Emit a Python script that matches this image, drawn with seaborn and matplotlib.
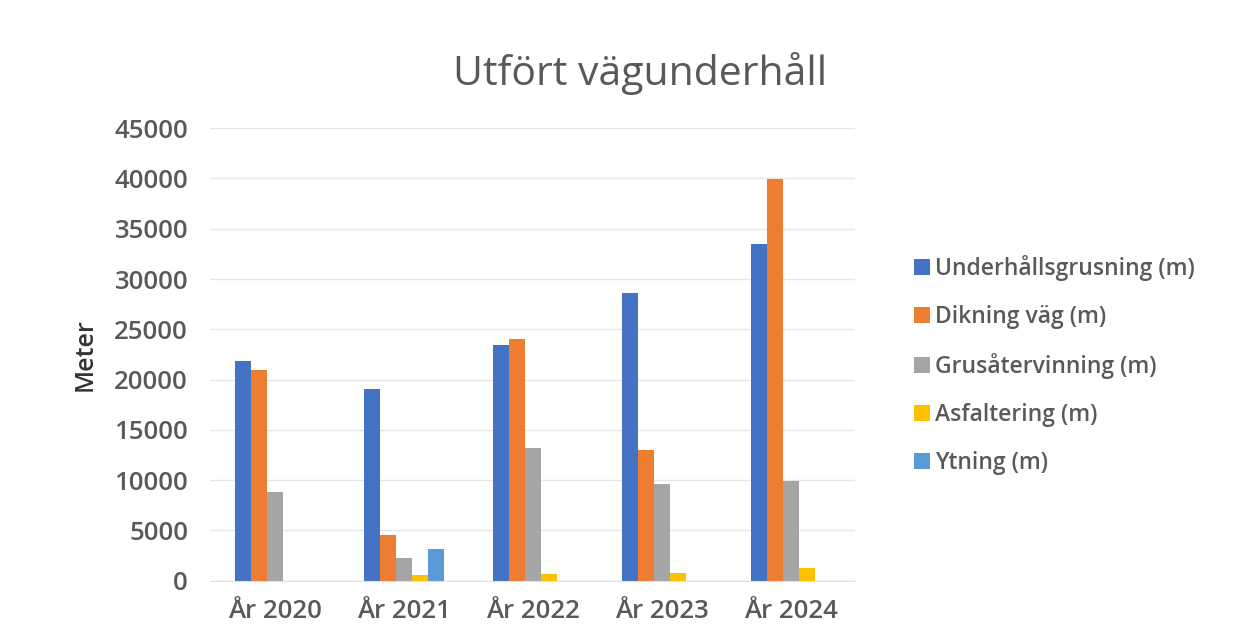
import pandas as pd
import seaborn as sns
import matplotlib.pyplot as plt

# Data
years = ['År 2020', 'År 2021', 'År 2022', 'År 2023', 'År 2024']
series = ['Underhållsgrusning (m)', 'Dikning väg (m)', 'Grusåtervinning (m)',
          'Asfaltering (m)', 'Ytning (m)']
underhall = [21900, 19100, 23400, 28600, 33500]
dikning = [21000, 4500, 24000, 13000, 39900]
grus = [8800, 2300, 13200, 9600, 9900]
asfalt = [0, 600, 700, 800, 1300]
ytning = [0, 3200, 0, 0, 0]

colors = ['#4472C4', '#ED7D31', '#A5A5A5', '#FFC000', '#5B9BD5']
txt = '#595959'

rows = []
for name, vals in zip(series, [underhall, dikning, grus, asfalt, ytning]):
    for yr, v in zip(years, vals):
        rows.append({'year': yr, 'serie': name, 'meter': v})
df = pd.DataFrame(rows)

sns.set_style('white')
plt.rcParams['font.family'] = ['Open Sans', 'DejaVu Sans']

fig = plt.figure(figsize=(12.52, 6.41), dpi=100)
ax = fig.add_axes([0.168, 0.094, 0.515, 0.706])

sns.barplot(data=df, x='year', y='meter', hue='serie', palette=colors,
            width=0.62, saturation=1, linewidth=0, ax=ax, legend=True)

ax.set_ylim(0, 45000)
ax.set_yticks(range(0, 45001, 5000))
ax.yaxis.grid(True, color='#E6E6E6', linewidth=1)
ax.set_axisbelow(True)
for s in ['top', 'right', 'left']:
    ax.spines[s].set_visible(False)
ax.spines['bottom'].set_color('#E0E0E0')
ax.tick_params(axis='both', length=0, labelsize=18.5, labelcolor=txt)
ax.tick_params(axis='x', pad=13)
ax.tick_params(axis='y', pad=16)
for lab in ax.get_xticklabels() + ax.get_yticklabels():
    lab.set_fontweight('semibold')
ax.set_xlabel('')
ax.set_ylabel('Meter', fontsize=18, color='#333333', fontweight='semibold', labelpad=12)

fig.text(0.511, 0.886, 'Utfört vägunderhåll', ha='center', va='center',
         fontsize=29.5, color=txt)

leg = ax.legend(loc='center left', bbox_to_anchor=(1.06, 0.477), frameon=False,
                fontsize=16.5, handlelength=0.7, handleheight=0.7, handletextpad=0.2,
                labelspacing=1.05)
for t in leg.get_texts():
    t.set_color(txt)
    t.set_fontweight('semibold')

fig.savefig('out.png', dpi=100)
